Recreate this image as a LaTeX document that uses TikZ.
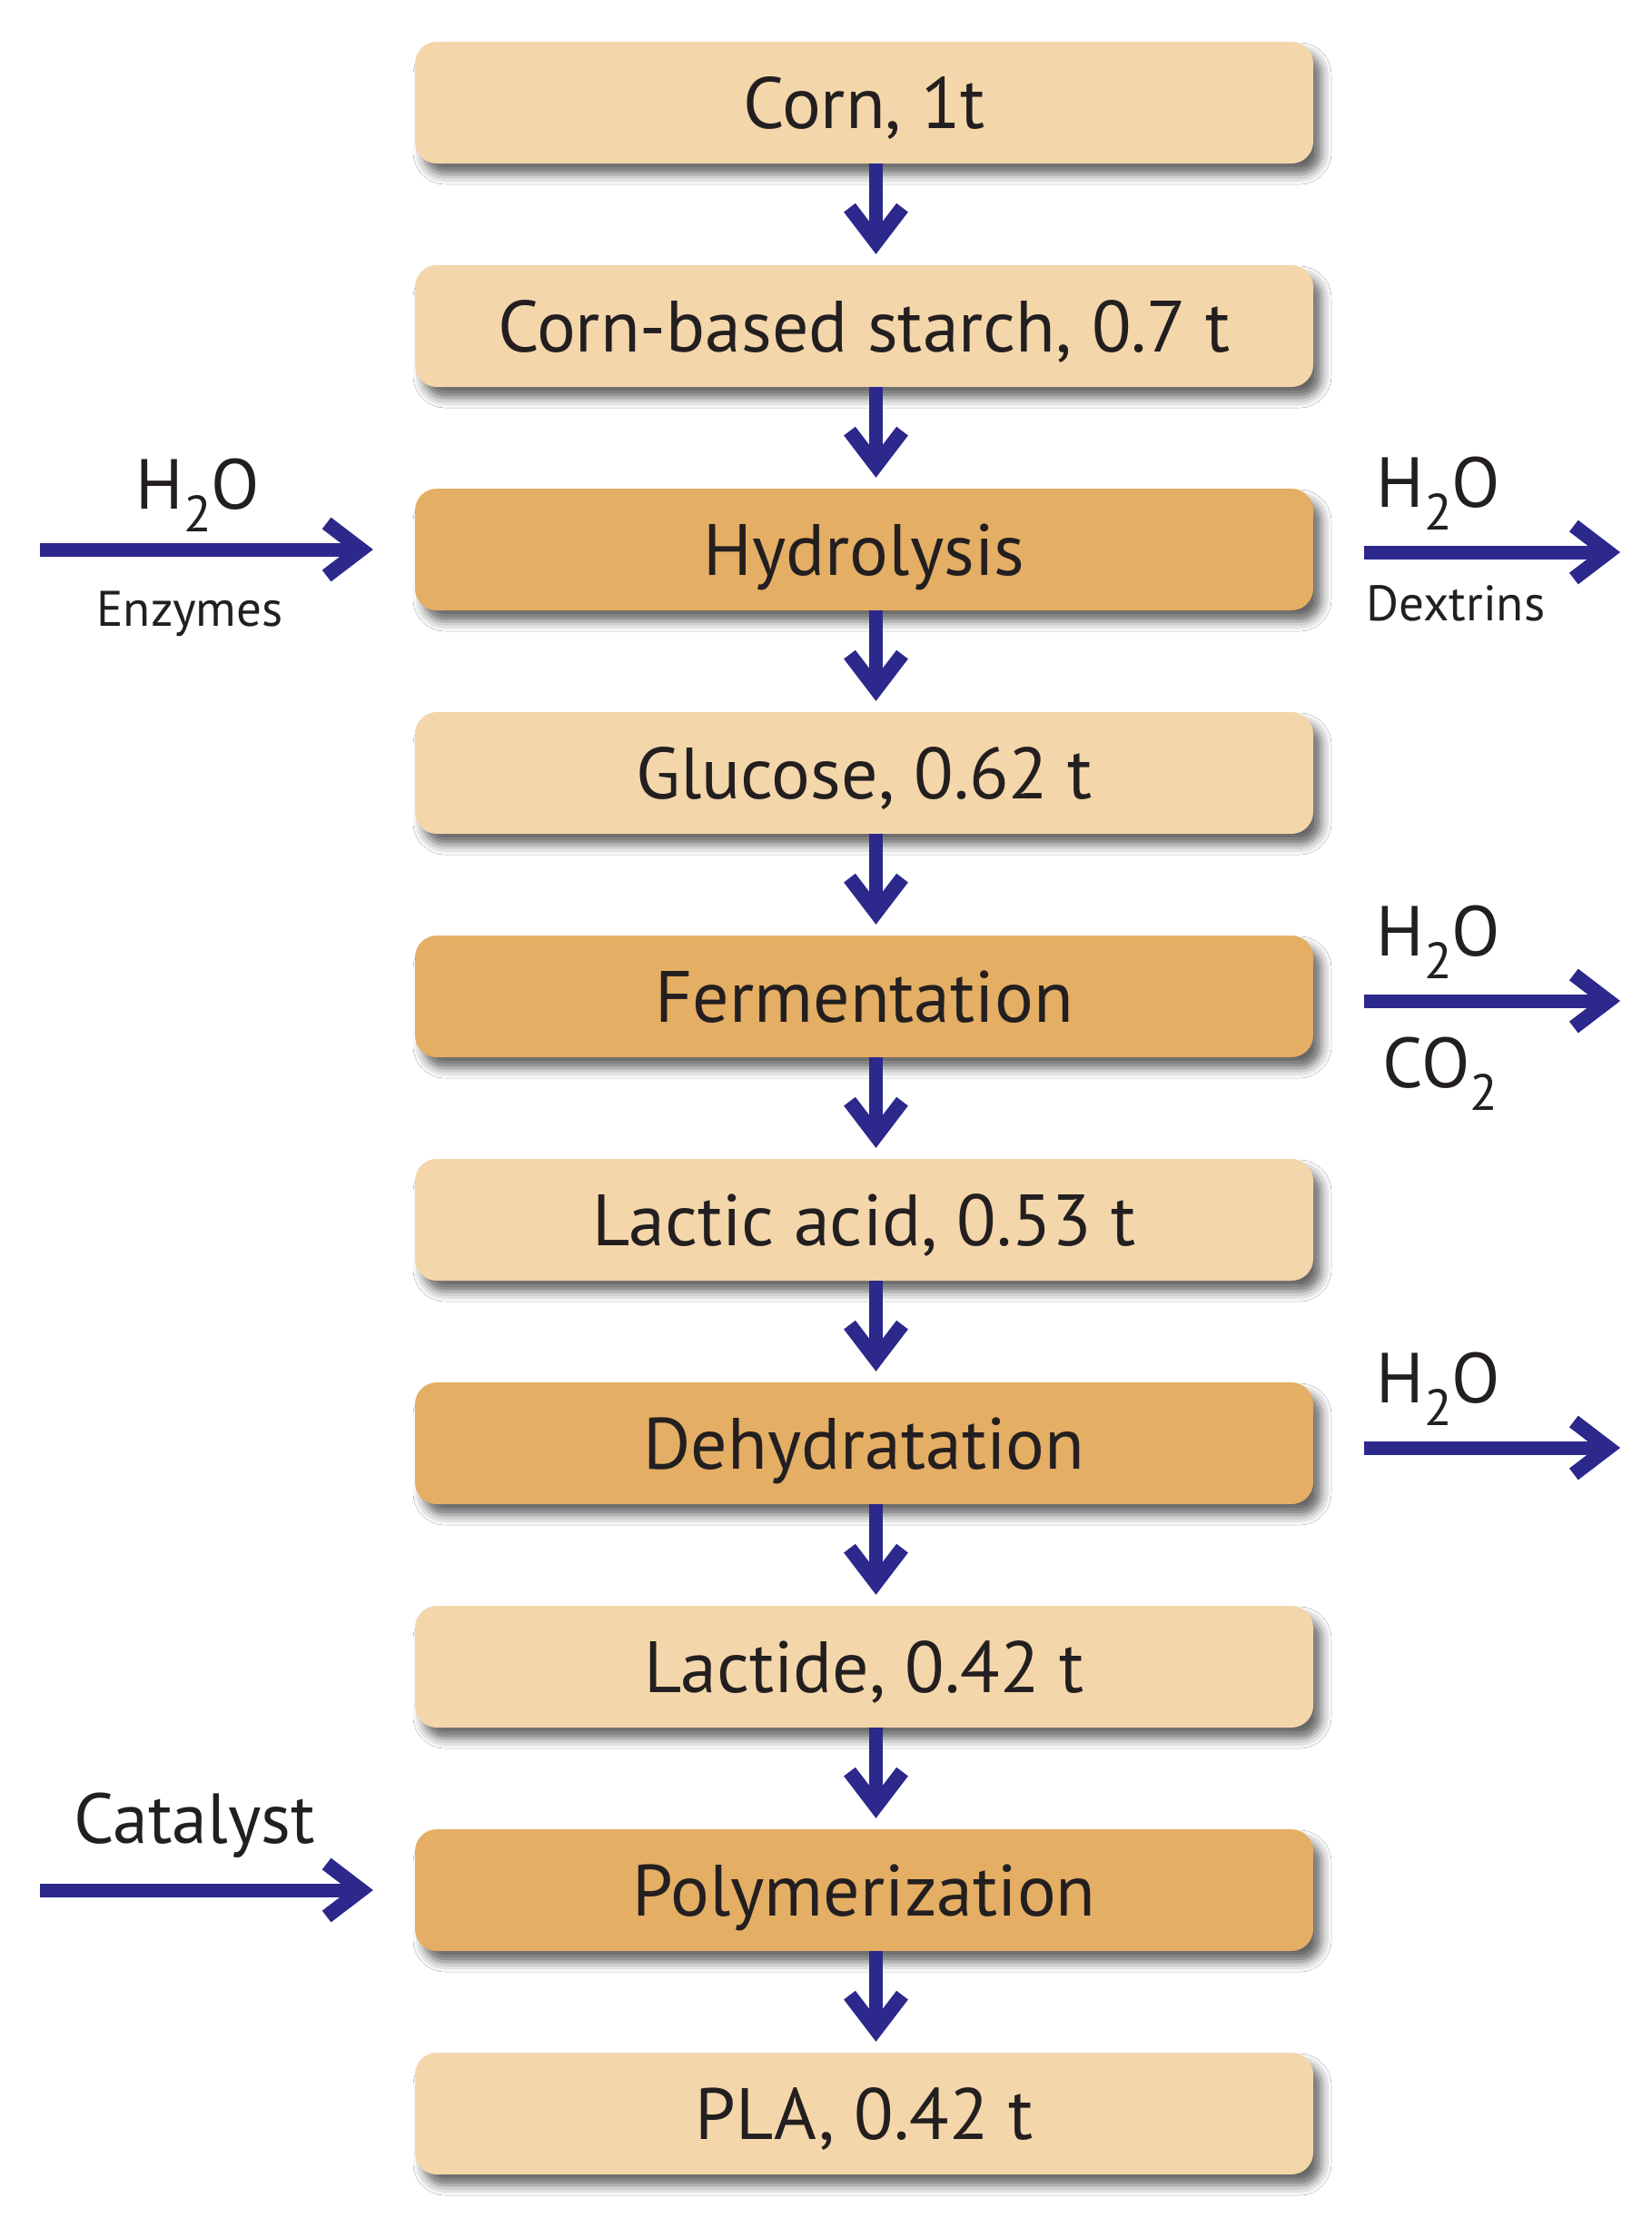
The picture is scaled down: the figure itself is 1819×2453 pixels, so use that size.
\documentclass[tikz,border=0pt]{standalone}
\usepackage{fontspec}
\usepackage{graphicx}
\setmainfont{PT Sans}
\usetikzlibrary{arrows.meta,shadows.blur}
\definecolor{lightbox}{RGB}{243,214,170}
\definecolor{darkbox}{RGB}{228,174,100}
\definecolor{navy}{RGB}{44,40,140}
\definecolor{ink}{RGB}{35,31,32}
\newcommand\chemsub[1]{\raisebox{-0.32em}{\scalebox{0.72}{#1}}}
\tikzset{
  boxbase/.style={rounded corners=24pt, minimum width=989pt, minimum height=134pt,
    inner sep=0pt, font=\fontsize{80}{96}\selectfont, text=ink,
    text height=56pt, text depth=0pt,
    blur shadow={shadow xshift=9pt, shadow yshift=-12pt, shadow blur radius=11pt, shadow opacity=60}},
  product/.style={boxbase, fill=lightbox},
  process/.style={boxbase, fill=darkbox},
  flow/.style={draw=navy, line width=15pt, -{Straight Barb[length=38pt,width=58pt,line width=16pt]}},
  sidelabel/.style={font=\fontsize{78}{92}\selectfont, text=ink, inner sep=0pt, text height=55pt, text depth=0pt},
  smalllabel/.style={font=\fontsize{55}{66}\selectfont, text=ink, inner sep=0pt, text height=39pt, text depth=0pt},
}
\begin{document}
\begin{tikzpicture}[x=1pt,y=1pt]
\useasboundingbox[fill=white] (0,0) rectangle (1819,-2453);
% boxes
\node[product] (b1)  at (951.5,-113)  {Corn, 1t};
\node[product] (b2)  at (951.5,-359)  {Corn-based starch, 0.7 t};
\node[process] (b3)  at (951.5,-605)  {Hydrolysis};
\node[product] (b4)  at (951.5,-851)  {Glucose, 0.62 t};
\node[process] (b5)  at (951.5,-1097) {Fermentation};
\node[product] (b6)  at (951.5,-1343) {Lactic acid, 0.53 t};
\node[process] (b7)  at (951.5,-1589) {Dehydratation};
\node[product] (b8)  at (951.5,-1835) {Lactide, 0.42 t};
\node[process] (b9)  at (951.5,-2081) {Polymerization};
\node[product] (b10) at (951.5,-2327) {PLA, 0.42 t};
% vertical flow arrows
\foreach \a/\b in {b1/b2,b2/b3,b3/b4,b4/b5,b5/b6,b6/b7,b7/b8,b8/b9,b9/b10}
  \draw[flow, shorten >=12pt] ([xshift=13pt]\a.south) -- ([xshift=13pt]\b.north);
% side streams
\coordinate (inHyd)  at (44,-605);
\coordinate (inPol)  at (44,-2081);
\coordinate (outHyd) at (1784,-608);
\coordinate (outFer) at (1784,-1102);
\coordinate (outDeh) at (1784,-1594);
\draw[flow, shorten >=46pt] (inHyd) -- (b3.west);
\draw[flow, shorten >=46pt] (inPol) -- (b9.west);
\draw[flow, shorten <=56pt] (b3.east |- outHyd) -- (outHyd);
\draw[flow, shorten <=56pt] (b5.east |- outFer) -- (outFer);
\draw[flow, shorten <=56pt] (b7.east |- outDeh) -- (outDeh);
% labels
\node[sidelabel]  (lH2Oa) at (218,-533)  {H\chemsub{2}O};
\node[smalllabel] (lEnz)  at (209,-670)  {Enzymes};
\node[sidelabel]  (rH2Oa) at (1584,-531) {H\chemsub{2}O};
\node[smalllabel] (lDex)  at (1603,-664) {Dextrins};
\node[sidelabel]  (rH2Ob) at (1584,-1025) {H\chemsub{2}O};
\node[sidelabel]  (lCO)   at (1586,-1170) {CO\chemsub{2}};
\node[sidelabel]  (rH2Oc) at (1584,-1517) {H\chemsub{2}O};
\node[sidelabel]  (lCat)  at (214,-2002) {Catalyst};
\end{tikzpicture}
\end{document}
